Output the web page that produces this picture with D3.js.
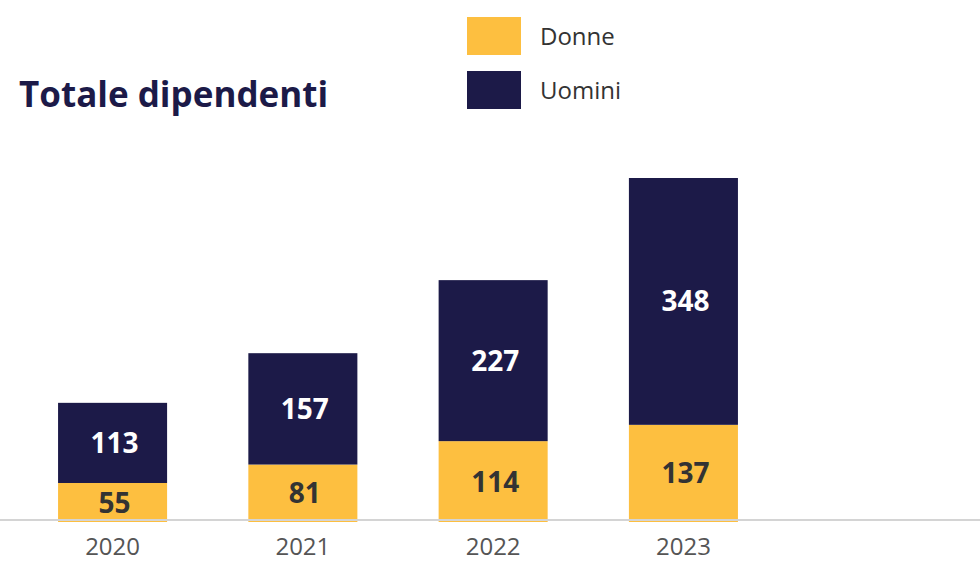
<!DOCTYPE html>
<html>
<head>
<meta charset="utf-8">
<script src="https://cdn.jsdelivr.net/npm/d3@7"></script>
<style>
  html, body { margin: 0; padding: 0; background: #fff; }
  svg { display: block; font-family: "Open Sans", "Noto Sans", sans-serif; }
</style>
</head>
<body>
<svg id="chart" width="980" height="562"></svg>
<script>
// Headcount by year, split by gender
const years = ["2020", "2021", "2022", "2023"];
const donne = [55, 81, 114, 137];
const uomini = [113, 157, 227, 348];
const seriesNames = ["Donne", "Uomini"];
const seriesColors = ["#FDBF40", "#1C1A48"];
const labelColors = ["#333333", "#FFFFFF"];

const width = 980, height = 562;
const svg = d3.select("#chart");

const rows = years.map((y, i) => ({ year: y, Donne: donne[i], Uomini: uomini[i] }));
const stack = d3.stack().keys(seriesNames);
const layers = stack(rows);

const x = d3.scaleBand()
  .domain(years)
  .range([20, 776])
  .paddingInner(0.427)
  .paddingOuter(0.2);

const baseY = 522;
const y = d3.scaleLinear()
  .domain([0, 485])
  .range([baseY, 178]);

const color = d3.scaleOrdinal().domain(seriesNames).range(seriesColors);
const labelColor = d3.scaleOrdinal().domain(seriesNames).range(labelColors);

// Stacked bars
const groups = svg.append("g").selectAll("g")
  .data(layers)
  .join("g")
  .attr("fill", d => color(d.key));

groups.selectAll("rect")
  .data(d => d.map(p => ({ key: d.key, p })))
  .join("rect")
  .attr("x", d => x(d.p.data.year))
  .attr("width", x.bandwidth())
  .attr("y", d => y(d.p[1]))
  .attr("height", d => y(d.p[0]) - y(d.p[1]));

// Baseline axis
const xAxis = d3.axisBottom(x).tickSize(0).tickPadding(18);
const axisG = svg.append("g")
  .attr("transform", `translate(0,${baseY - 2})`)
  .call(xAxis);
axisG.select(".domain").remove();
axisG.selectAll("text")
  .attr("font-family", "'Open Sans', sans-serif")
  .attr("font-size", 24)
  .attr("fill", "#555555");
svg.append("line")
  .attr("x1", 0).attr("x2", width)
  .attr("y1", baseY - 2).attr("y2", baseY - 2)
  .attr("stroke", "#D4D4D4")
  .attr("stroke-width", 2);

// Value labels in the middle of each segment
groups.selectAll("text")
  .data(d => d.map(p => ({ key: d.key, p })))
  .join("text")
  .attr("x", d => x(d.p.data.year) + x.bandwidth() / 2 + 2)
  .attr("y", d => (y(d.p[0]) + y(d.p[1])) / 2)
  .attr("dy", "0.36em")
  .attr("text-anchor", "middle")
  .attr("font-size", 28)
  .attr("font-weight", 700)
  .attr("fill", d => labelColor(d.key))
  .text(d => d.p[1] - d.p[0]);

// Title
svg.append("text")
  .attr("x", 19)
  .attr("y", 107)
  .attr("font-size", 35)
  .attr("font-weight", 700)
  .attr("fill", "#1C1A48")
  .text("Totale dipendenti");

// Legend
const legend = svg.append("g").selectAll("g")
  .data(seriesNames)
  .join("g")
  .attr("transform", (d, i) => `translate(467,${17 + i * 54})`);
legend.append("rect")
  .attr("width", 54)
  .attr("height", 38)
  .attr("fill", d => color(d));
legend.append("text")
  .attr("x", 73)
  .attr("y", 19)
  .attr("dy", "0.36em")
  .attr("font-size", 24)
  .attr("fill", "#333333")
  .text(d => d);
</script>
</body>
</html>
